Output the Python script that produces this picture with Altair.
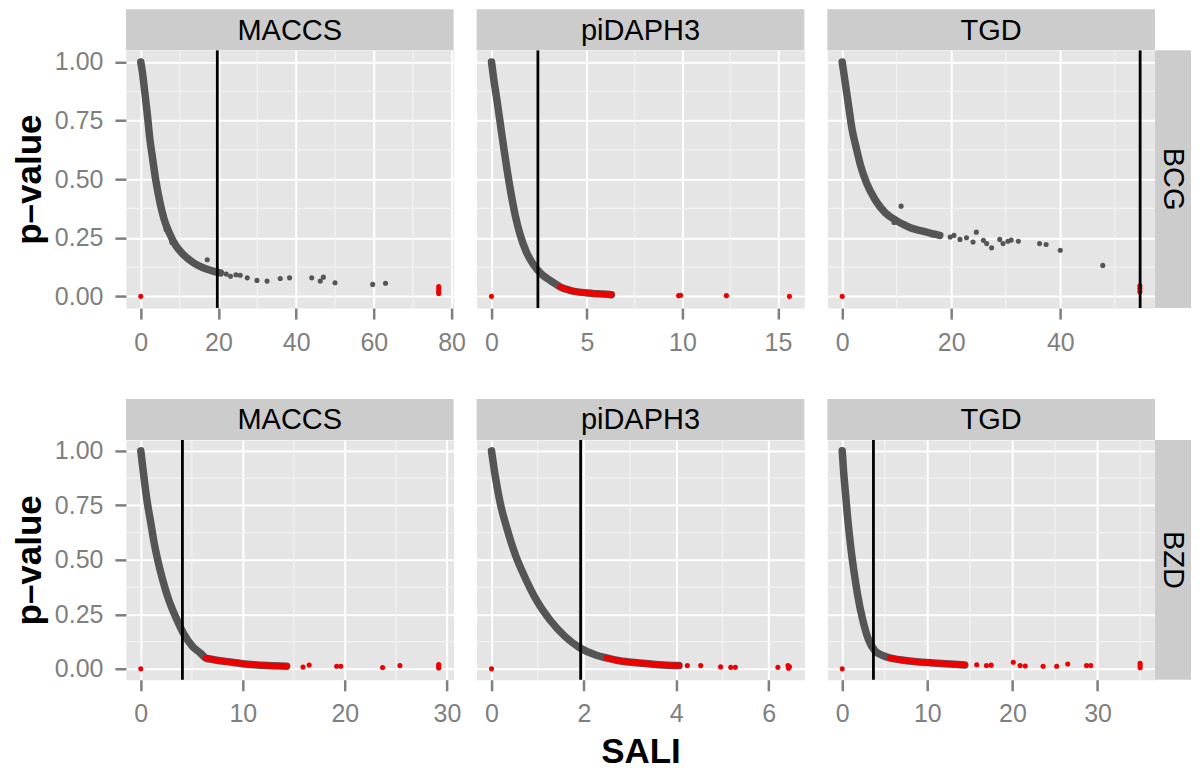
import altair as alt
import pandas as pd

# ---------------- data ----------------
ROW_LABELS = ["BCG", "BZD"]
COL_LABELS = ["MACCS", "piDAPH3", "TGD"]

P_TICKS = [0.0, 0.25, 0.5, 0.75, 1.0]
P_MINOR = [0.125, 0.375, 0.625, 0.875]

# BCG / MACCS
BCG_MACCS_CURVE_SALI = [0, 0.43, 1.03, 1.7, 2.3, 3.0, 3.85, 4.96, 6.0, 7.26, 8.97, 11.1, 13.7, 16.2, 18.8, 20.5]
BCG_MACCS_CURVE_P = [1.0, 0.954, 0.871, 0.774, 0.676, 0.593, 0.496, 0.399, 0.329, 0.274, 0.218, 0.176, 0.142, 0.121, 0.107, 0.100]
BCG_MACCS_PTS_SALI = [6.5, 8.0, 10.0, 12.5, 15.0, 17.1, 22.0, 23.1, 24.5, 25.6, 27.4, 29.9, 32.5, 35.9, 38.3, 44.0, 46.2, 47.0, 50.0, 59.7, 63.0, 0.0, 76.7, 76.7, 76.7, 76.7]
BCG_MACCS_PTS_P = [0.285, 0.23, 0.2, 0.16, 0.13, 0.156, 0.095, 0.086, 0.092, 0.090, 0.079, 0.068, 0.065, 0.076, 0.079, 0.079, 0.065, 0.082, 0.058, 0.051, 0.056, 0.0, 0.012, 0.022, 0.032, 0.042]
BCG_MACCS_CUTOFF = 19.7
BCG_MACCS_TICKS = [0, 20, 40, 60, 80]
BCG_MACCS_MINOR = [10, 30, 50, 70]

# BCG / piDAPH3
BCG_PIDAPH3_CURVE_SALI = [0, 0.12, 0.30, 0.47, 0.64, 0.82, 1.02, 1.25, 1.51, 1.82, 2.2, 2.64, 3.07, 3.33, 3.6, 4.1, 4.6, 5.3, 5.85, 6.28]
BCG_PIDAPH3_CURVE_P = [1.0, 0.926, 0.829, 0.732, 0.635, 0.5375, 0.44, 0.343, 0.26, 0.19, 0.135, 0.093, 0.068, 0.054, 0.04, 0.026, 0.018, 0.0125, 0.01, 0.007]
BCG_PIDAPH3_PTS_SALI = [0.0, 9.8, 9.9, 12.3, 15.6]
BCG_PIDAPH3_PTS_P = [0.0, 0.003, 0.005, 0.003, 0.0]
BCG_PIDAPH3_CUTOFF = 2.43
BCG_PIDAPH3_TICKS = [0, 5, 10, 15]
BCG_PIDAPH3_MINOR = [2.5, 7.5, 12.5]

# BCG / TGD
BCG_TGD_CURVE_SALI = [0, 0.55, 1.16, 1.77, 2.56, 3.29, 4.5, 6.04, 7.87, 10.0, 12.4, 15.5, 17.9]
BCG_TGD_CURVE_P = [1.0, 0.9125, 0.815, 0.718, 0.635, 0.565, 0.482, 0.4125, 0.357, 0.322, 0.294, 0.274, 0.26]
BCG_TGD_PTS_SALI = [5.5, 7.0, 8.5, 9.5, 11.5, 13.0, 14.5, 16.5, 10.8, 19.8, 20.5, 21.6, 22.8, 24.0, 24.6, 25.9, 26.5, 27.4, 28.9, 29.5, 30.4, 31.0, 32.3, 36.2, 37.4, 40.0, 47.8, 0.0, 54.6, 54.6, 54.6]
BCG_TGD_PTS_P = [0.44, 0.39, 0.35, 0.315, 0.31, 0.285, 0.28, 0.262, 0.385, 0.253, 0.26, 0.243, 0.25, 0.232, 0.274, 0.239, 0.225, 0.207, 0.243, 0.225, 0.235, 0.24, 0.235, 0.225, 0.221, 0.197, 0.132, 0.0, 0.02, 0.033, 0.045]
BCG_TGD_CUTOFF = 54.65
BCG_TGD_TICKS = [0, 20, 40]
BCG_TGD_MINOR = [10, 30, 50]

# BZD / MACCS
BZD_MACCS_CURVE_SALI = [0, 0.16, 0.39, 0.65, 0.98, 1.30, 1.70, 2.18, 2.77, 3.42, 4.17, 5.05, 5.87, 6.36, 7.17, 8.48, 9.78, 11.1, 12.4, 14.3]
BZD_MACCS_CURVE_P = [1.0, 0.9375, 0.848, 0.759, 0.67, 0.58, 0.491, 0.402, 0.3125, 0.238, 0.164, 0.104, 0.071, 0.05, 0.042, 0.033, 0.025, 0.019, 0.015, 0.012]
BZD_MACCS_PTS_SALI = [0.0, 15.9, 16.5, 19.2, 19.6, 23.7, 25.4, 29.2, 29.2, 29.2]
BZD_MACCS_PTS_P = [0.0, 0.008, 0.018, 0.012, 0.012, 0.006, 0.015, 0.004, 0.012, 0.02]
BZD_MACCS_CUTOFF = 4.08
BZD_MACCS_TICKS = [0, 10, 20, 30]
BZD_MACCS_MINOR = [5, 15, 25]

# BZD / piDAPH3
BZD_PIDAPH3_CURVE_SALI = [0, 0.086, 0.19, 0.34, 0.52, 0.73, 0.98, 1.27, 1.59, 1.91, 2.27, 2.49, 2.77, 3.2, 3.63, 4.06]
BZD_PIDAPH3_CURVE_P = [1.0, 0.878, 0.759, 0.64, 0.521, 0.417, 0.3125, 0.223, 0.149, 0.097, 0.0625, 0.05, 0.037, 0.027, 0.019, 0.015]
BZD_PIDAPH3_PTS_SALI = [0.0, 4.24, 4.53, 4.96, 5.18, 5.28, 6.2, 6.42, 6.43, 6.45]
BZD_PIDAPH3_PTS_P = [0.0, 0.015, 0.015, 0.009, 0.007, 0.007, 0.007, 0.015, 0.003, 0.01]
BZD_PIDAPH3_CUTOFF = 1.93
BZD_PIDAPH3_TICKS = [0, 2, 4, 6]
BZD_PIDAPH3_MINOR = [1, 3, 5]

# BZD / TGD
BZD_TGD_CURVE_SALI = [0, 0.16, 0.39, 0.625, 0.94, 1.33, 1.8, 2.42, 3.09, 3.87, 4.84, 5.6, 6.8, 8.75, 10.7, 12.7, 14.4]
BZD_TGD_CURVE_P = [1.0, 0.908, 0.804, 0.699, 0.58, 0.461, 0.342, 0.223, 0.134, 0.082, 0.06, 0.05, 0.042, 0.033, 0.027, 0.022, 0.018]
BZD_TGD_PTS_SALI = [0.0, 15.8, 16.95, 17.5, 20.1, 20.9, 21.5, 23.6, 25.2, 26.5, 28.7, 29.2, 35.0, 35.0, 35.0]
BZD_TGD_PTS_P = [0.0, 0.019, 0.015, 0.017, 0.03, 0.015, 0.013, 0.012, 0.012, 0.022, 0.015, 0.015, 0.005, 0.015, 0.025]
BZD_TGD_CUTOFF = 3.67
BZD_TGD_TICKS = [0, 10, 20, 30]
BZD_TGD_MINOR = [5, 15, 25, 35]

# ---------------- styling ----------------
FONT = "Liberation Sans"
W = 328
HEIGHTS = [258, 240]
STRIP = 41
ROWSTRIP = 36
GREY_TXT = "#7F7F7F"
DOT_GREY = "#555555"
DOT_RED = "#EE0000"
STRIP_FILL = "#CCCCCC"

PANELS = [
    [
        (BCG_MACCS_CURVE_SALI, BCG_MACCS_CURVE_P, BCG_MACCS_PTS_SALI, BCG_MACCS_PTS_P, BCG_MACCS_CUTOFF, BCG_MACCS_TICKS, BCG_MACCS_MINOR),
        (BCG_PIDAPH3_CURVE_SALI, BCG_PIDAPH3_CURVE_P, BCG_PIDAPH3_PTS_SALI, BCG_PIDAPH3_PTS_P, BCG_PIDAPH3_CUTOFF, BCG_PIDAPH3_TICKS, BCG_PIDAPH3_MINOR),
        (BCG_TGD_CURVE_SALI, BCG_TGD_CURVE_P, BCG_TGD_PTS_SALI, BCG_TGD_PTS_P, BCG_TGD_CUTOFF, BCG_TGD_TICKS, BCG_TGD_MINOR),
    ],
    [
        (BZD_MACCS_CURVE_SALI, BZD_MACCS_CURVE_P, BZD_MACCS_PTS_SALI, BZD_MACCS_PTS_P, BZD_MACCS_CUTOFF, BZD_MACCS_TICKS, BZD_MACCS_MINOR),
        (BZD_PIDAPH3_CURVE_SALI, BZD_PIDAPH3_CURVE_P, BZD_PIDAPH3_PTS_SALI, BZD_PIDAPH3_PTS_P, BZD_PIDAPH3_CUTOFF, BZD_PIDAPH3_TICKS, BZD_PIDAPH3_MINOR),
        (BZD_TGD_CURVE_SALI, BZD_TGD_CURVE_P, BZD_TGD_PTS_SALI, BZD_TGD_PTS_P, BZD_TGD_CUTOFF, BZD_TGD_TICKS, BZD_TGD_MINOR),
    ],
]


def make_panel(ri, ci):
    curve_s, curve_p, pts_s, pts_p, cutoff, ticks, minor = PANELS[ri][ci]
    H = HEIGHTS[ri]
    all_x = list(curve_s) + list(pts_s) + [cutoff]
    lo, hi = min(all_x), max(all_x)
    pad = 0.05 * (hi - lo)
    xs = alt.Scale(domain=[lo - pad, hi + pad], nice=False, zero=False)
    ys = alt.Scale(domain=[-0.05, 1.05], nice=False, zero=False)

    xtitle = "SALI" if (ri == 1 and ci == 1) else ""
    xaxis = alt.Axis(
        values=ticks, format="d", title=xtitle, grid=True, gridColor="white", gridWidth=2,
        domain=False, labelFontSize=25, labelColor=GREY_TXT, labelPadding=11,
        labelFlush=False, labelOverlap=False, tickColor=GREY_TXT, tickSize=11, tickWidth=2.5,
        titleFontSize=35, titleFontWeight="bold", titleColor="black", titlePadding=8,
    )
    if ci == 0:
        yaxis = alt.Axis(
            values=P_TICKS, format=".2f", title="p\u2013value", grid=True, gridColor="white",
            gridWidth=2, domain=False, labelFontSize=25, labelColor=GREY_TXT, labelPadding=12,
            labelOverlap=False, labelFlush=False, tickColor=GREY_TXT, tickSize=11, tickWidth=2.5,
            titleFontSize=35, titleFontWeight="bold", titleColor="black", titlePadding=7,
        )
    else:
        yaxis = alt.Axis(
            values=P_TICKS, labels=False, ticks=False, domain=False, title="",
            grid=True, gridColor="white", gridWidth=2,
        )

    X = alt.X("SALI:Q", scale=xs, axis=xaxis)
    Y = alt.Y("p:Q", scale=ys, axis=yaxis)

    minor_x = alt.Chart(pd.DataFrame({"SALI": minor})).mark_rule(
        color="#F2F2F2", strokeWidth=1.2).encode(x=X)
    minor_y = alt.Chart(pd.DataFrame({"p": P_MINOR})).mark_rule(
        color="#F2F2F2", strokeWidth=1.2).encode(y=Y)

    curve_df = pd.DataFrame({"SALI": curve_s, "p": curve_p})
    curve = alt.Chart(curve_df).mark_line(
        color=DOT_GREY, strokeWidth=7.5, interpolate="monotone", strokeCap="round").encode(x=X, y=Y)
    curve_red = alt.Chart(curve_df).transform_filter("datum.p <= 0.05").mark_line(
        color=DOT_RED, strokeWidth=6, interpolate="monotone", strokeCap="round").encode(x=X, y=Y)

    pts_df = pd.DataFrame({"SALI": pts_s, "p": pts_p})
    pts = alt.Chart(pts_df).mark_circle(size=26, opacity=1).encode(
        x=X, y=Y,
        color=alt.condition("datum.p < 0.05", alt.value(DOT_RED), alt.value(DOT_GREY)),
    )

    vline = alt.Chart(pd.DataFrame({"SALI": [cutoff]})).mark_rule(
        color="black", strokeWidth=2.8).encode(x=X)

    strip_df = pd.DataFrame({"label": [COL_LABELS[ci]]})
    strip_rect = alt.Chart(strip_df).mark_rect(color=STRIP_FILL).encode(
        x=alt.value(0), x2=alt.value(W), y=alt.value(-STRIP), y2=alt.value(0))
    strip_text = alt.Chart(strip_df).mark_text(
        fontSize=29, color="black", baseline="middle", align="center", font=FONT).encode(
        x=alt.value(W / 2), y=alt.value(-STRIP / 2 + 1), text="label:N")

    layers = [minor_x, minor_y, curve, curve_red, pts, vline, strip_rect, strip_text]

    if ci == 2:
        row_df = pd.DataFrame({"label": [ROW_LABELS[ri]]})
        row_rect = alt.Chart(row_df).mark_rect(color=STRIP_FILL).encode(
            x=alt.value(W), x2=alt.value(W + ROWSTRIP), y=alt.value(0), y2=alt.value(H))
        row_text = alt.Chart(row_df).mark_text(
            fontSize=29, color="black", baseline="middle", align="center", angle=90, font=FONT).encode(
            x=alt.value(W + ROWSTRIP / 2), y=alt.value(H / 2), text="label:N")
        layers += [row_rect, row_text]

    return alt.layer(*layers).properties(width=W, height=H)


panels = [make_panel(ri, ci) for ri in range(2) for ci in range(3)]

chart = alt.concat(
    *panels, columns=3, spacing={"row": 132, "column": 23}, bounds="flush"
).properties(padding={"left": 3, "top": 0, "right": 0, "bottom": 0}).configure(font=FONT).configure_view(
    fill="#E5E5E5", stroke="transparent")

chart.save("out.html", embed_options={"renderer": "svg", "actions": False})
